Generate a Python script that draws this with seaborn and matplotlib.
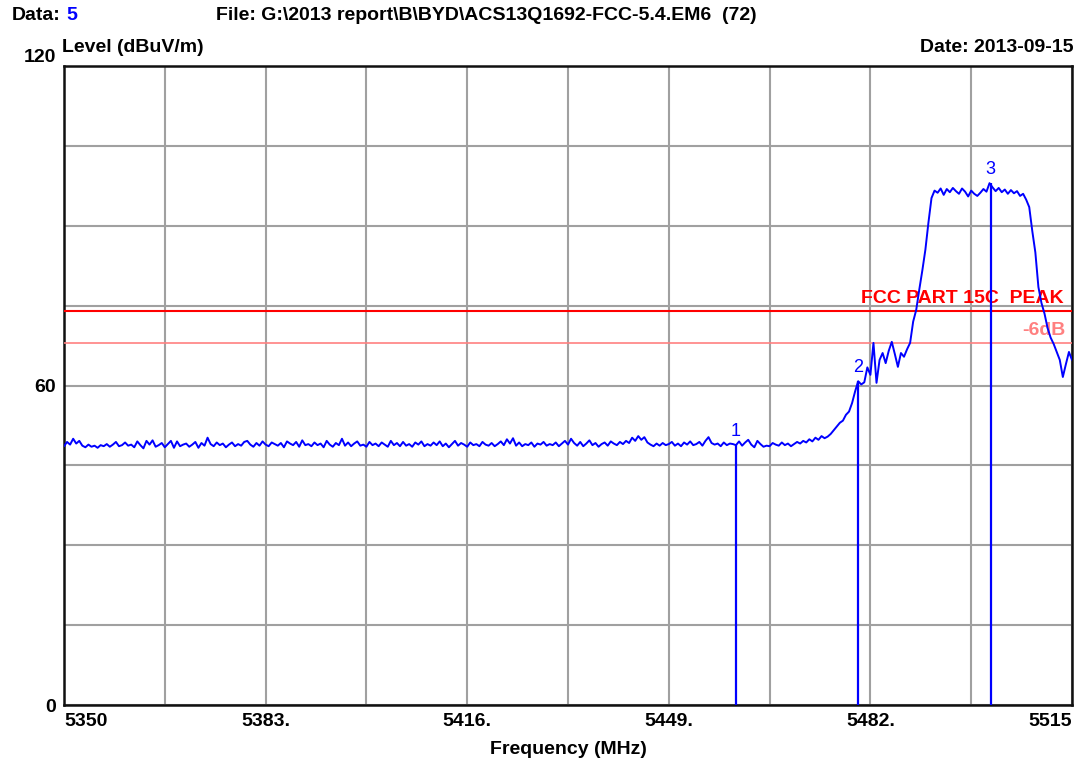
import numpy as np
import pandas as pd
import matplotlib
matplotlib.use("Agg")
import matplotlib.pyplot as plt
import seaborn as sns

# sweep limits (MHz) and measured level, 0.5 MHz per point
freq_start = 5350
freq_stop = 5515
level = [
    48.6, 49.4, 48.9, 50.0, 49.1, 49.6, 48.7, 48.4, 48.9, 48.5, 48.7, 48.3, 48.8, 48.6, 49.0, 48.5, 48.9, 49.4, 48.6, 48.8,
    49.3, 48.7, 48.9, 48.4, 49.5, 48.8, 48.2, 49.6, 48.9, 49.7, 48.5, 48.8, 49.2, 48.4, 49.0, 49.6, 48.3, 49.5, 48.6, 48.9,
    49.1, 48.5, 48.9, 49.4, 48.3, 49.2, 48.7, 50.2, 49.0, 48.6, 49.3, 48.8, 49.1, 48.4, 48.9, 49.3, 48.6, 49.0, 48.7, 49.4,
    49.6, 48.9, 48.5, 49.2, 48.7, 49.5, 48.9, 48.6, 49.3, 49.0, 48.7, 49.2, 48.4, 49.5, 49.1, 48.8, 49.4, 48.5, 49.7, 48.8,
    49.0, 48.6, 49.3, 48.8, 49.1, 48.4, 49.6, 48.9, 48.5, 49.2, 48.8, 50.0, 48.7, 49.3, 48.6, 49.1, 49.5, 48.7, 48.9, 48.5,
    49.4, 48.8, 49.1, 48.6, 49.3, 48.9, 48.5, 49.6, 48.8, 49.2, 48.6, 49.4, 48.7, 49.0, 48.5, 49.3, 48.9, 49.5, 48.6, 49.0,
    48.7, 49.3, 48.8, 49.5, 48.6, 49.1, 48.4, 49.0, 49.6, 48.7, 49.2, 48.9, 48.5, 49.3, 48.8, 49.0, 48.6, 49.4, 48.9, 48.7,
    49.2, 48.6, 49.0, 49.5, 48.8, 49.9, 49.1, 50.1, 48.7, 49.3, 48.6, 49.0, 48.8, 49.3, 48.5, 49.1, 48.9, 49.4, 48.7, 49.0,
    48.8, 49.3, 48.6, 49.1, 49.6, 48.9, 50.0, 49.2, 48.7, 49.4, 48.6, 49.1, 49.7, 48.8, 49.2, 48.5, 49.0, 49.3, 48.7, 49.5,
    49.1, 48.8, 49.4, 49.0, 49.6, 49.2, 50.2, 49.6, 50.5, 49.8, 50.3, 49.3, 48.9, 48.6, 49.1, 48.7, 49.2, 48.8, 49.0, 49.4,
    48.7, 49.1, 48.6, 49.3, 48.9, 49.5, 48.8, 49.0, 49.4, 48.7, 49.6, 50.3, 49.2, 48.9, 49.1, 48.6, 49.3, 48.8, 49.1, 49.0,
    48.8, 49.5, 48.7, 49.3, 49.8, 48.9, 48.4, 49.6, 49.0, 48.5, 48.7, 48.6, 49.2, 48.9, 48.7, 49.3, 48.8, 49.1, 48.6, 49.0,
    49.4, 49.1, 49.6, 49.3, 49.9, 49.5, 50.2, 49.8, 50.5, 50.1, 50.4, 50.9, 51.6, 52.3, 53.0, 53.4, 54.5, 55.1, 56.7, 58.9,
    60.8, 60.2, 60.6, 63.4, 62.0, 68.0, 60.5, 64.8, 66.1, 64.2, 66.5, 68.2, 65.9, 63.5, 66.1, 65.4, 66.8, 68.0, 72.0, 74.2,
    78.0, 81.6, 85.5, 90.6, 95.2, 96.6, 96.2, 97.0, 95.8, 96.9, 96.3, 97.1, 96.5, 96.0, 97.0, 96.4, 95.5, 96.6, 96.0, 95.6,
    96.2, 96.9, 96.4, 98.0, 97.2, 96.5, 97.1, 96.3, 96.8, 96.0, 96.7, 96.1, 96.5, 95.6, 96.0, 94.9, 93.5, 89.0, 85.0, 78.5,
    75.5, 73.5, 70.8, 69.0, 67.8, 66.3, 64.8, 61.6, 64.0, 66.3, 64.8,
]

# markers
marker_ids = ["1", "2", "3"]
marker_freq = [5460.0, 5480.0, 5501.7]
marker_level = [48.8, 60.8, 98.0]

# limit line
limit_peak = 74.0
limit_margin = 6.0

x_ticks = [5350, 5366.5, 5383, 5399.5, 5416, 5432.5, 5449, 5465.5, 5482, 5498.5, 5515]
x_labels = ["5350", "", "5383.", "", "5416.", "", "5449.", "", "5482.", "", "5515"]
y_grid = [0, 15, 30, 45, 60, 75, 90, 105, 120]
y_labels = ["0", "", "", "", "60", "", "", "", "120"]

sns.set_style("whitegrid")
plt.rcParams['font.family'] = ['Liberation Sans', 'DejaVu Sans']
plt.rcParams['font.weight'] = 'bold'
plt.rcParams['text.color'] = 'black'
plt.rcParams['axes.labelcolor'] = 'black'
plt.rcParams['xtick.color'] = 'black'
plt.rcParams['ytick.color'] = 'black'

df = pd.DataFrame({"freq": np.linspace(freq_start, freq_stop, len(level)), "level": level})

fig = plt.figure(figsize=(10.92, 7.6), dpi=100)
ax = fig.add_axes([64 / 1092, 55 / 760, 1008 / 1092, 639 / 760])

ax.axhline(limit_peak, color="#ff0000", lw=1.5, zorder=3)
ax.axhline(limit_peak - limit_margin, color="#ff8080", lw=1.2, zorder=3)

sns.lineplot(data=df, x="freq", y="level", color="#0000ff", lw=1.4, estimator=None, ax=ax, zorder=4)

ax.vlines(marker_freq, 0, marker_level, color="#0000ff", lw=1.6, zorder=5)
for name, f, lv in zip(marker_ids, marker_freq, marker_level):
    ax.annotate(name, (f, lv), xytext=(0, 4), textcoords="offset points",
                ha="center", va="bottom", color="#0000ff", fontsize=13, fontweight="normal")

ax.annotate("FCC PART 15C  PEAK", (1, limit_peak), xycoords=("axes fraction", "data"),
            xytext=(-6, 3), textcoords="offset points", ha="right", va="bottom",
            color="#ff0000", fontsize=14, fontweight="bold")
ax.annotate("-6dB", (1, limit_peak - limit_margin), xycoords=("axes fraction", "data"),
            xytext=(-5, 3), textcoords="offset points", ha="right", va="bottom",
            color="#ff8080", fontsize=14, fontweight="bold")

ax.set_xlim(freq_start, freq_stop)
ax.set_ylim(0, 120)
ax.set_xticks(x_ticks)
ax.set_xticklabels(x_labels)
ax.set_yticks(y_grid)
ax.set_yticklabels(y_labels)
ax.tick_params(length=0, labelsize=14, pad=6, colors="black")
xt = ax.get_xticklabels()
xt[0].set_ha("left")
xt[-1].set_ha("right")
yt = ax.get_yticklabels()
yt[-1].set_va("bottom")
for t in xt + yt:
    t.set_fontweight("bold")

ax.grid(True, color="#a0a0a0", lw=1.5)
for s in ax.spines.values():
    s.set_color("#101010")
    s.set_linewidth(1.8)

ax.set_xlabel("Frequency (MHz)", fontsize=14, fontweight="bold", labelpad=8, color="black")
ax.set_ylabel("")

# header texts
fig.text(12 / 1092, 1 - 15 / 760, "Data:", fontsize=14, fontweight="bold", va="center")
fig.text(66 / 1092, 1 - 15 / 760, "5", fontsize=14, fontweight="bold", va="center", color="#0000ff")
fig.text(216 / 1092, 1 - 15 / 760, r"File: G:\2013 report\B\BYD\ACS13Q1692-FCC-5.4.EM6  (72)",
         fontsize=14, fontweight="bold", va="center")
fig.text(62 / 1092, 1 - 47 / 760, "Level (dBuV/m)", fontsize=14, fontweight="bold", va="center")
fig.text(1073 / 1092, 1 - 47 / 760, "Date: 2013-09-15", fontsize=14, fontweight="bold",
         va="center", ha="right")

fig.savefig("out.png", dpi=100, facecolor="white")
